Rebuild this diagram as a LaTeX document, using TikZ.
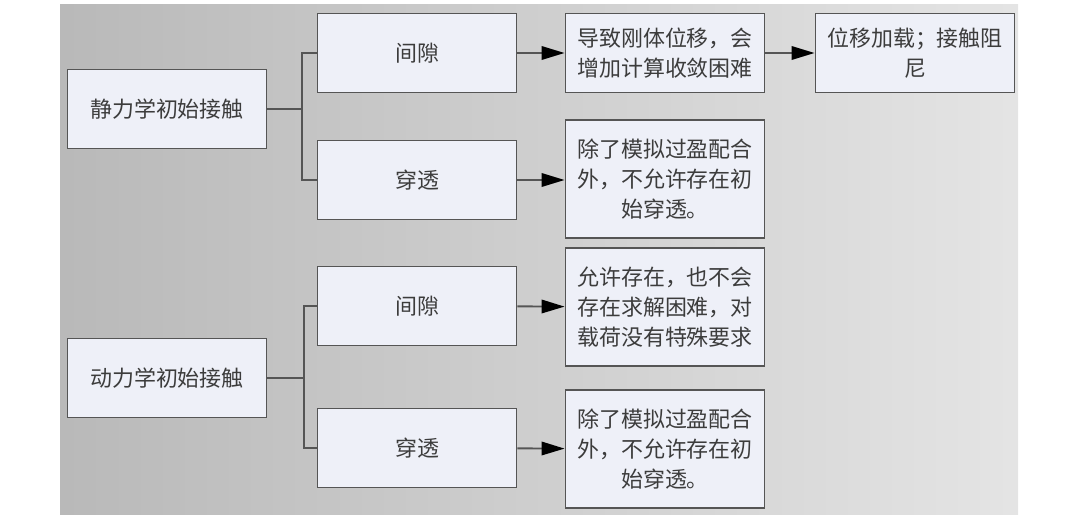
\documentclass[tikz,border=0pt]{standalone}
\usepackage{fontspec}
\newfontfamily\cjk{Noto Sans CJK SC}
\usetikzlibrary{arrows.meta}
\definecolor{boxfill}{HTML}{EEF0F8}
\definecolor{boxline}{HTML}{555555}
\definecolor{txt}{HTML}{3C3C3C}

\begin{document}
\begin{tikzpicture}[x=0.02cm,y=-0.02cm,
    box/.style={draw=boxline,line width=1.1pt,fill=boxfill,minimum width=3.98cm,
      minimum height=1.58cm,align=center,text=txt,inner sep=0pt,
      font=\cjk\fontsize{12.5}{17}\selectfont},
    tallbox/.style={box,minimum height=2.36cm},
    link/.style={draw=boxline,line width=1.1pt},
    arr/.style={link,-{Triangle[length=0.46cm,width=0.27cm,black]}}]
    \useasboundingbox (0,0) rectangle (1080,527);
    \shade[left color=gray!55,right color=gray!21] (60,5) rectangle (1018,514);
    % static contact
    \node[box] (s1) at (167,109) {静力学初始接触};
    \node[box] (g1) at (417,53) {间隙};
    \node[box] (p1) at (417,180) {穿透};
    \node[box] (r1) at (665,53) {导致刚体位移，会\\增加计算收敛困难};
    \node[box] (r2) at (915,53) {位移加载；接触阻\\尼};
    \node[tallbox] (r3) at (665,179) {除了模拟过盈配合\\外，不允许存在初\\始穿透。};
    \coordinate (j1) at (302,109);
    \draw[link] (s1) -- (j1);
    \draw[link] (j1) |- (g1);
    \draw[link] (j1) |- (p1);
    \draw[arr] (g1) -- (r1);
    \draw[arr] (r1) -- (r2);
    \draw[arr] (p1) -- (p1 -| r3.west);
    % dynamic contact
    \node[box] (s2) at (167,378) {动力学初始接触};
    \node[box] (g2) at (417,306) {间隙};
    \node[box] (p2) at (417,448) {穿透};
    \node[tallbox] (r4) at (665,307) {允许存在，也不会\\存在求解困难，对\\载荷没有特殊要求};
    \node[tallbox] (r5) at (665,449) {除了模拟过盈配合\\外，不允许存在初\\始穿透。};
    \coordinate (j2) at (304,378);
    \draw[link] (s2) -- (j2);
    \draw[link] (j2) |- (g2);
    \draw[link] (j2) |- (p2);
    \draw[arr] (g2) -- (r4);
    \draw[arr] (p2) -- (r5);
\end{tikzpicture}
\end{document}
